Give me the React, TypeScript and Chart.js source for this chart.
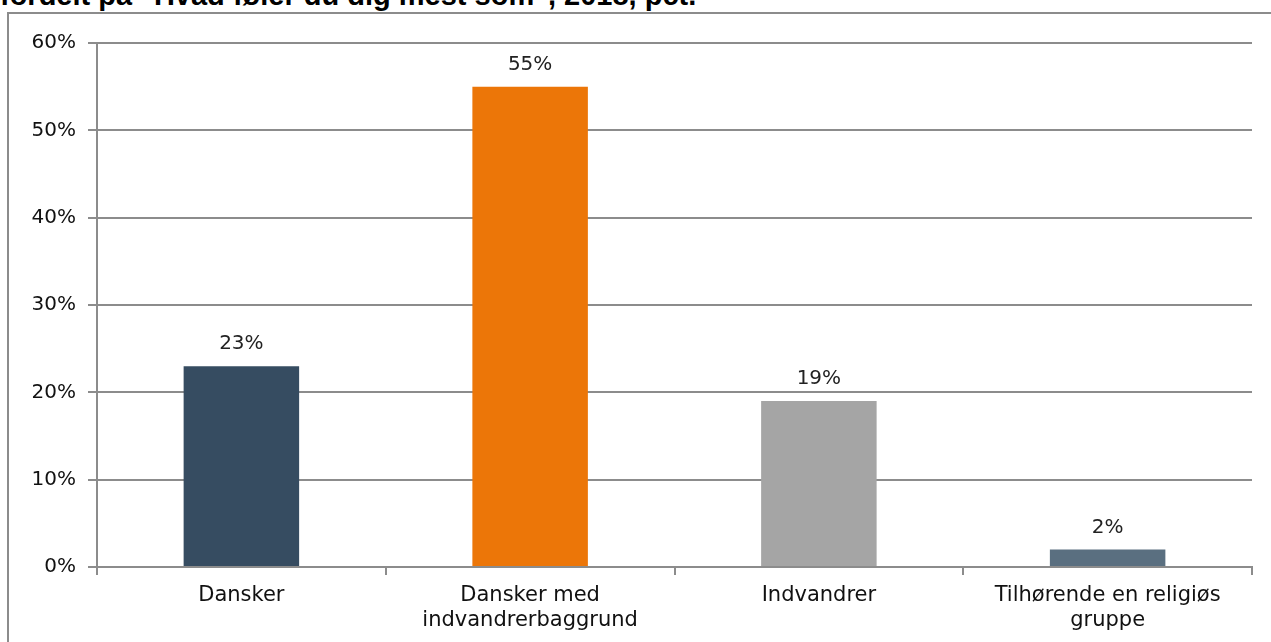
import { useEffect, useRef } from "react"
import { Chart, registerables } from "chart.js"

Chart.register(...registerables)

const categories = [
  ["Dansker"],
  ["Dansker med", "indvandrerbaggrund"],
  ["Indvandrer"],
  ["Tilhørende en religiøs", "gruppe"],
]
const shares = [23, 55, 19, 2]
const barColors = ["#364c61", "#ec7608", "#a5a5a5", "#5a6f80"]
const yTicks = [0, 10, 20, 30, 40, 50, 60]

const FONT = "'DejaVu Sans', Verdana, sans-serif"

// percentage labels over each bar
const valueLabels = {
  id: "valueLabels",
  afterDatasetsDraw: (chart: any) => {
    const { ctx } = chart
    const meta = chart.getDatasetMeta(0)
    ctx.save()
    ctx.font = `20px ${FONT}`
    ctx.fillStyle = "#222"
    ctx.textAlign = "center"
    ctx.textBaseline = "alphabetic"
    meta.data.forEach((bar: any, i: number) => {
      ctx.fillText(shares[i] + "%", bar.x, bar.y - 17)
    })
    ctx.restore()
  },
}

export default function App() {
  const canvasRef = useRef<HTMLCanvasElement>(null)
  const chartRef = useRef<Chart | null>(null)

  useEffect(() => {
    if (!canvasRef.current) return
    if (chartRef.current) chartRef.current.destroy()

    chartRef.current = new Chart(canvasRef.current, {
      type: "bar",
      data: {
        labels: categories,
        datasets: [
          {
            data: shares,
            backgroundColor: barColors,
            borderWidth: 0,
            categoryPercentage: 1,
            barPercentage: 0.4,
          },
        ],
      },
      options: {
        animation: false,
        responsive: false,
        maintainAspectRatio: false,
        layout: { padding: { top: 43, right: 19, left: 0, bottom: 0 } },
        plugins: {
          legend: { display: false },
          tooltip: { enabled: false },
        },
        scales: {
          x: {
            grid: {
              offset: true,
              drawOnChartArea: false,
              tickLength: 8,
              color: "#8c8c8c",
              lineWidth: 2,
            },
            border: { color: "#8c8c8c", width: 2 },
            ticks: {
              color: "#111",
              padding: 8,
              maxRotation: 0,
              autoSkip: false,
              font: { family: FONT, size: 21, lineHeight: 1.2 },
            },
            afterFit: (scale: any) => {
              scale.height = 75
            },
          },
          y: {
            min: 0,
            max: 60,
            afterBuildTicks: (scale: any) => {
              scale.ticks = yTicks.map((v) => ({ value: v }))
            },
            grid: { color: "#8c8c8c", lineWidth: 2, tickLength: 9 },
            border: { color: "#8c8c8c", width: 2 },
            ticks: {
              color: "#111",
              padding: 12,
              font: { family: FONT, size: 20 },
              callback: (v: any) => v + "%",
            },
            afterFit: (scale: any) => {
              scale.width = 97
            },
          },
        },
      } as any,
      plugins: [valueLabels],
    })

    return () => {
      if (chartRef.current) {
        chartRef.current.destroy()
        chartRef.current = null
      }
    }
  }, [])

  return (
    <div style={{ position: "fixed", left: 0, top: 0, width: 1271, height: 642, overflow: "hidden", background: "#fff" }}>
      <div
        style={{
          position: "absolute",
          left: 0,
          top: -21,
          whiteSpace: "nowrap",
          font: "bold 29px 'Liberation Sans', Arial, sans-serif",
          color: "#000",
        }}
      >
        fordelt på "Hvad føler du dig mest som", 2018, pct.
      </div>
      <div
        style={{
          position: "absolute",
          left: 7,
          top: 12,
          width: 1271,
          height: 700,
          borderTop: "2px solid #8c8c8c",
          borderLeft: "2px solid #8c8c8c",
        }}
      />
      <canvas
        ref={canvasRef}
        width={1271}
        height={642}
        style={{ position: "absolute", left: 0, top: 0, width: 1271, height: 642 }}
      />
    </div>
  )
}
